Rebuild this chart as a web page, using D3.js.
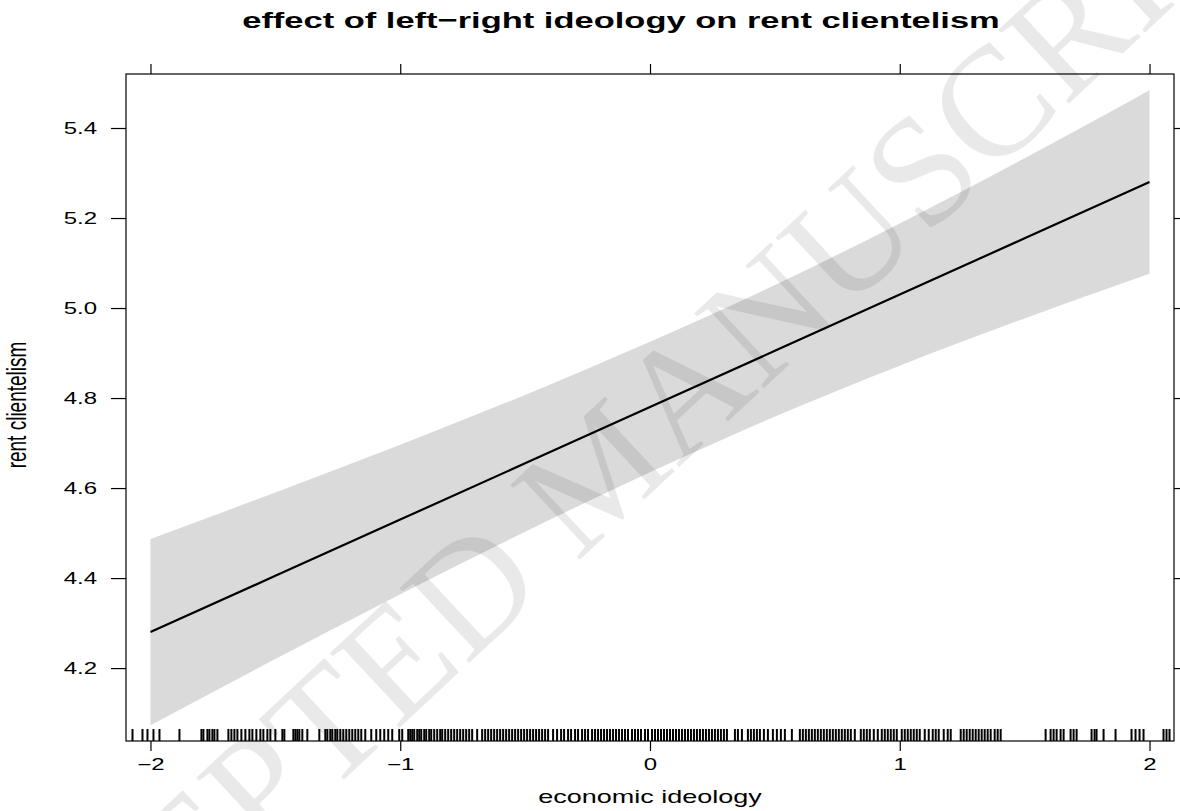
<!DOCTYPE html>
<html>
<head>
<meta charset="utf-8">
<script src="https://cdn.jsdelivr.net/npm/d3@7"></script>
<style>
  body { margin: 0; background: #fff; }
  svg { display: block; }
  .sans { font-family: "Liberation Sans", Arial, Helvetica, sans-serif; }
  .serif { font-family: "Liberation Serif", "Times New Roman", serif; }
</style>
</head>
<body>
<svg id="chart" width="1180" height="811"></svg>
<script>
// Fitted effect of economic ideology on rent clientelism
const ideologyGrid = [-2, -1.5, -1, -0.5, 0, 0.5, 1, 1.5, 2];
const fitValues    = [4.28, 4.405, 4.53, 4.655, 4.78, 4.905, 5.03, 5.155, 5.28];
const upperValues  = [4.487, 4.590, 4.696, 4.807, 4.925, 5.051, 5.188, 5.333, 5.484];
const lowerValues  = [4.073, 4.220, 4.364, 4.503, 4.635, 4.759, 4.872, 4.977, 5.076];

const xTicks = [-2, -1, 0, 1, 2];
const xTickLabels = ["\u22122", "\u22121", "0", "1", "2"];
const yTicks = [4.2, 4.4, 4.6, 4.8, 5.0, 5.2, 5.4];
const yTickLabels = ["4.2", "4.4", "4.6", "4.8", "5.0", "5.2", "5.4"];

// Observed economic ideology scores (rug)
const rugValues = [
  -2.072, -2.032, -2.012, -1.988, -1.964, -1.884, -1.796, -1.788, -1.772, -1.764,
  -1.752, -1.744, -1.732, -1.688, -1.676, -1.664, -1.652, -1.636, -1.62, -1.604,
  -1.592, -1.576, -1.56, -1.548, -1.532, -1.52, -1.5, -1.472, -1.464, -1.428,
  -1.42, -1.412, -1.404, -1.392, -1.372, -1.324, -1.3, -1.292, -1.28, -1.272,
  -1.26, -1.252, -1.24, -1.228, -1.216, -1.204, -1.192, -1.18, -1.168, -1.156,
  -1.14, -1.116, -1.096, -1.08, -1.064, -1.048, -1.032, -1.004, -0.992, -0.968,
  -0.96, -0.952, -0.944, -0.932, -0.924, -0.916, -0.904, -0.896, -0.884, -0.876,
  -0.864, -0.852, -0.84, -0.832, -0.82, -0.808, -0.796, -0.784, -0.772, -0.76,
  -0.748, -0.736, -0.724, -0.712, -0.692, -0.672, -0.66, -0.648, -0.636, -0.624,
  -0.612, -0.6, -0.588, -0.576, -0.564, -0.552, -0.54, -0.528, -0.516, -0.504,
  -0.492, -0.48, -0.468, -0.456, -0.444, -0.432, -0.42, -0.408, -0.388, -0.372,
  -0.356, -0.344, -0.328, -0.316, -0.3, -0.288, -0.272, -0.26, -0.248, -0.232,
  -0.22, -0.208, -0.196, -0.184, -0.172, -0.16, -0.148, -0.136, -0.124, -0.112,
  -0.1, -0.088, -0.072, -0.06, -0.048, -0.036, -0.02, -0.008, 0.008, 0.02,
  0.032, 0.044, 0.056, 0.068, 0.08, 0.092, 0.104, 0.116, 0.128, 0.14,
  0.152, 0.164, 0.176, 0.188, 0.2, 0.212, 0.224, 0.236, 0.248, 0.26,
  0.272, 0.284, 0.296, 0.308, 0.34, 0.352, 0.368, 0.392, 0.404, 0.416,
  0.428, 0.44, 0.456, 0.472, 0.492, 0.508, 0.524, 0.54, 0.568, 0.6,
  0.612, 0.624, 0.636, 0.648, 0.66, 0.672, 0.684, 0.696, 0.708, 0.72,
  0.732, 0.744, 0.756, 0.768, 0.78, 0.792, 0.804, 0.82, 0.844, 0.856,
  0.868, 0.88, 0.896, 0.912, 0.928, 0.94, 0.952, 0.964, 0.976, 0.988,
  1.008, 1.02, 1.032, 1.044, 1.056, 1.068, 1.08, 1.1, 1.116, 1.132,
  1.144, 1.156, 1.176, 1.192, 1.204, 1.244, 1.256, 1.268, 1.28, 1.292,
  1.304, 1.316, 1.328, 1.34, 1.352, 1.364, 1.38, 1.392, 1.404, 1.584,
  1.604, 1.616, 1.628, 1.644, 1.656, 1.684, 1.696, 1.708, 1.768, 1.78,
  1.788, 1.816, 1.864, 1.928, 1.944, 1.96, 1.976, 2.056, 2.068, 2.08
];

const TITLE = "effect of left\u2212right ideology on rent clientelism";
const XLAB = "economic ideology";
const YLAB = "rent clientelism";
const STAMP = "ACCEPTED MANUSCRIPT";

const svg = d3.select("#chart");
const panel = { left: 126, right: 1174, top: 74, bottom: 741 };
const sx = 1.5; // horizontal text stretch

const x = d3.scaleLinear().domain([-2.098, 2.098]).range([panel.left, panel.right]);
const y = d3.scaleLinear().domain([4.038, 5.52]).range([panel.bottom, panel.top]);

const band = ideologyGrid.map((v, i) => ({ v, lo: lowerValues[i], hi: upperValues[i], fit: fitValues[i] }));

// confidence band
svg.append("path")
  .datum(band)
  .attr("fill", "#dadada")
  .attr("d", d3.area().x(d => x(d.v)).y0(d => y(d.lo)).y1(d => y(d.hi)).curve(d3.curveMonotoneX));

// fitted line
svg.append("path")
  .datum(band)
  .attr("fill", "none")
  .attr("stroke", "#000")
  .attr("stroke-width", 2.2)
  .attr("d", d3.line().x(d => x(d.v)).y(d => y(d.fit)));

// rug
svg.append("g")
  .selectAll("line")
  .data(rugValues)
  .join("line")
  .attr("x1", d => x(d)).attr("x2", d => x(d))
  .attr("y1", panel.bottom).attr("y2", panel.bottom - 12)
  .attr("stroke", "#000")
  .attr("stroke-width", 2);

// axes
const axisB = svg.append("g").attr("transform", `translate(0,${panel.bottom})`)
  .call(d3.axisBottom(x).tickValues(xTicks).tickSize(10).tickPadding(8)
    .tickFormat((d, i) => xTickLabels[i]));
const axisT = svg.append("g").attr("transform", `translate(0,${panel.top})`)
  .call(d3.axisTop(x).tickValues(xTicks).tickSize(10).tickFormat(""));
const axisL = svg.append("g").attr("transform", `translate(${panel.left},0)`)
  .call(d3.axisLeft(y).tickValues(yTicks).tickSize(15)
    .tickFormat((d, i) => yTickLabels[i]));
const axisR = svg.append("g").attr("transform", `translate(${panel.right},0)`)
  .call(d3.axisRight(y).tickValues(yTicks).tickSize(10).tickFormat(""));

[axisB, axisT, axisL, axisR].forEach(g => {
  g.select(".domain").remove();
  g.selectAll(".tick line").attr("stroke", "#000").attr("stroke-width", 1.2);
});

axisB.selectAll(".tick text")
  .attr("class", "sans")
  .attr("font-size", 16).attr("fill", "#000")
  .attr("transform", `scale(${sx},1)`);

axisL.selectAll(".tick text")
  .attr("class", "sans")
  .attr("font-size", 16).attr("fill", "#000")
  .attr("x", 0)
  .attr("transform", `translate(-29,0) scale(${sx},1)`);

// panel border
svg.append("rect")
  .attr("x", panel.left).attr("y", panel.top)
  .attr("width", panel.right - panel.left).attr("height", panel.bottom - panel.top)
  .attr("fill", "none").attr("stroke", "#000").attr("stroke-width", 1.2);

// title and axis labels
svg.append("text")
  .attr("class", "sans")
  .attr("transform", `translate(621,28) scale(${sx},1)`)
  .attr("text-anchor", "middle")
  .attr("font-size", 23).attr("font-weight", "bold")
  .text(TITLE);

svg.append("text")
  .attr("class", "sans")
  .attr("transform", `translate(650,803) scale(${sx},1)`)
  .attr("text-anchor", "middle")
  .attr("font-size", 18)
  .text(XLAB);

svg.append("text")
  .attr("class", "sans")
  .attr("transform", `translate(16,405) scale(${sx},1) rotate(-90)`)
  .attr("text-anchor", "middle")
  .attr("dy", "0.35em")
  .attr("font-size", 19)
  .text(YLAB);

// diagonal stamp
svg.append("text")
  .attr("class", "serif")
  .attr("transform", "translate(598,468) rotate(-43)")
  .attr("text-anchor", "middle")
  .attr("dy", "0.35em")
  .attr("font-size", 156)
  .attr("fill", "#000")
  .attr("fill-opacity", 0.085)
  .text(STAMP);
</script>
</body>
</html>
